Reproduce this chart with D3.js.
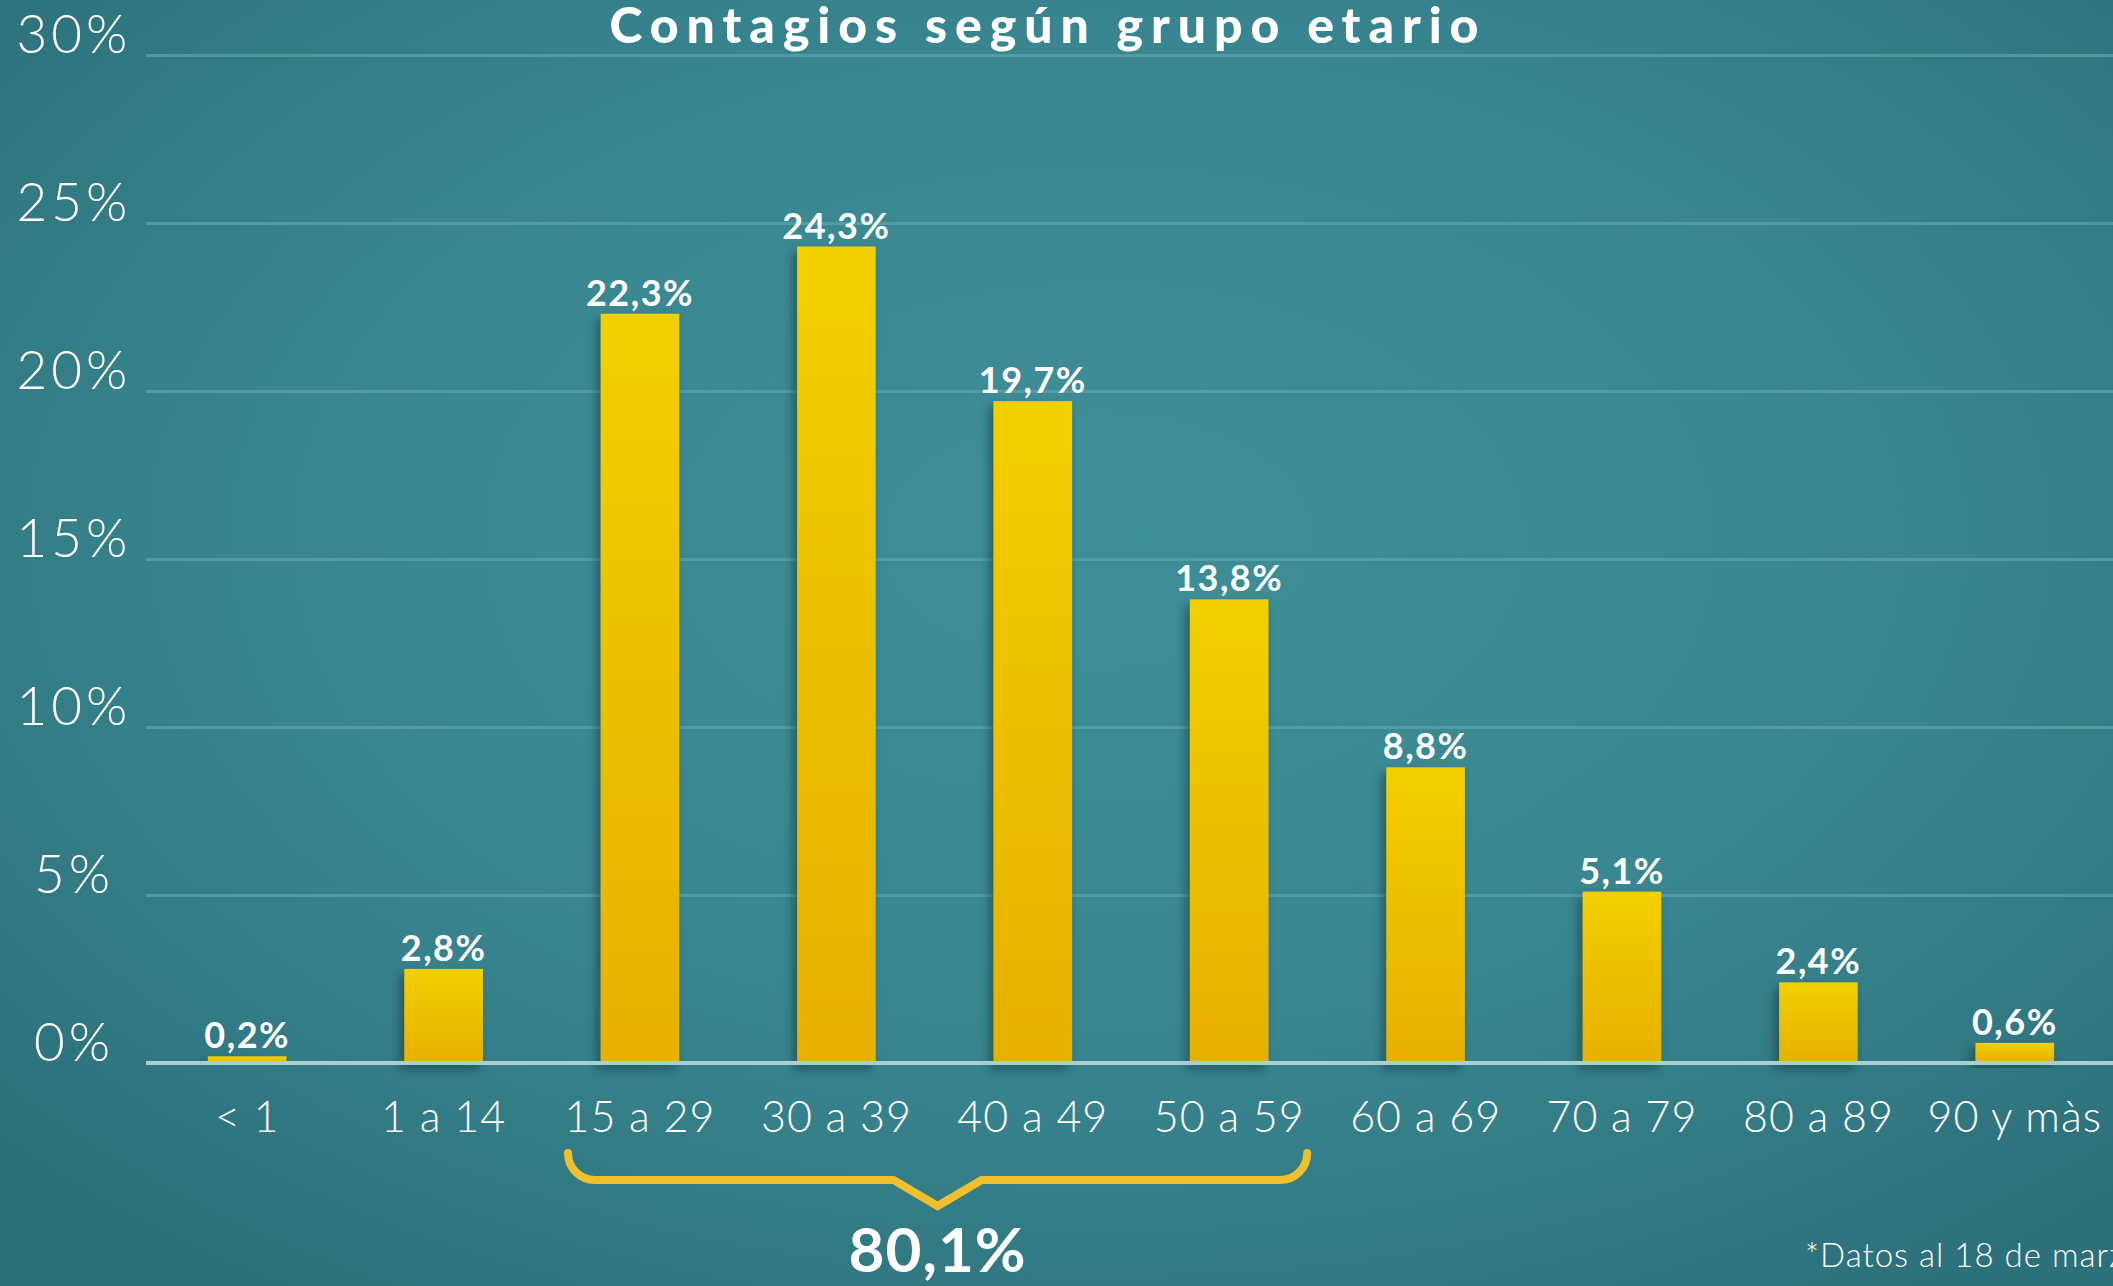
<!DOCTYPE html>
<html>
<head>
<meta charset="utf-8">
<script src="https://cdn.jsdelivr.net/npm/d3@7"></script>
<style>
  html, body { margin: 0; padding: 0; overflow: hidden; background: #33808a; }
  #chart { width: 2113px; height: 1286px; }
  text { font-family: Lato, "Open Sans", sans-serif; fill: #fff; }
</style>
</head>
<body>
<div id="chart"></div>
<script>
/* data */
const groups = ["< 1", "1 a 14", "15 a 29", "30 a 39", "40 a 49", "50 a 59", "60 a 69", "70 a 79", "80 a 89", "90 y màs"];
const shares = [0.2, 2.8, 22.3, 24.3, 19.7, 13.8, 8.8, 5.1, 2.4, 0.6];
const yTicks = [0, 5, 10, 15, 20, 25, 30];
const braceGroups = ["15 a 29", "50 a 59"];
const braceLabel = "80,1%";
const title = "Contagios según grupo etario";
const footnote = "*Datos al 18 de marzo";

const width = 2113;
const height = 1286;
const margin = { top: 55, left: 146, right: 0, bottom: 223 };

const svg = d3.select("#chart")
    .append("svg")
    .attr("width", width)
    .attr("height", height);

const defs = svg.append("defs");

// teal background, lighter in the middle
const bg = defs.append("radialGradient")
    .attr("id", "bg")
    .attr("cx", "52%").attr("cy", "42%").attr("r", "70%");
bg.append("stop").attr("offset", "0%").attr("stop-color", "#3e8e98");
bg.append("stop").attr("offset", "55%").attr("stop-color", "#398690");
bg.append("stop").attr("offset", "100%").attr("stop-color", "#2c707a");

// yellow bars fade a little toward the bottom
const barGrad = defs.append("linearGradient")
    .attr("id", "bar")
    .attr("x1", 0).attr("y1", 0).attr("x2", 0).attr("y2", 1);
barGrad.append("stop").attr("offset", "0%").attr("stop-color", "#f2d000");
barGrad.append("stop").attr("offset", "100%").attr("stop-color", "#e6b000");

const shadow = defs.append("filter")
    .attr("id", "shadow")
    .attr("x", "-50%").attr("y", "-10%").attr("width", "200%").attr("height", "130%");
shadow.append("feDropShadow")
    .attr("dx", -4).attr("dy", 6)
    .attr("stdDeviation", 5)
    .attr("flood-color", "#0b3338")
    .attr("flood-opacity", 0.55);

svg.append("rect")
    .attr("width", width)
    .attr("height", height)
    .attr("fill", "url(#bg)");

//scales
const xScale = d3.scaleBand()
    .domain(groups)
    .range([149, width])
    .paddingInner(0.6)
    .paddingOuter(0.3);

const yScale = d3.scaleLinear()
    .domain([0, 30])
    .range([height - margin.bottom, margin.top]);

const comma = d3.formatLocale({ decimal: ",", thousands: ".", grouping: [3], currency: ["", ""] }).format(".1f");

// gridlines + y labels
const yAxis = svg.append("g")
    .attr("transform", `translate(${margin.left},0)`)
    .call(d3.axisLeft(yScale)
        .tickValues(yTicks)
        .tickSize(-(width - margin.left))
        .tickFormat(d => d + "%"));

yAxis.select(".domain").remove();
yAxis.selectAll(".tick line")
    .attr("stroke", "#5aa3ab")
    .attr("stroke-opacity", 0.75)
    .attr("stroke-width", 3)
    .filter(d => d === 0).remove();
yAxis.selectAll(".tick text")
    .attr("x", 74 - margin.left)
    .attr("dy", -3)
    .attr("text-anchor", "middle")
    .style("font-size", "53px")
    .style("font-weight", 300)
    .style("letter-spacing", "4px")
    .style("fill", "#fff");

// bars
svg.append("g")
    .selectAll("rect")
    .data(shares)
    .join("rect")
    .attr("x", (d, i) => xScale(groups[i]))
    .attr("y", d => yScale(d))
    .attr("width", xScale.bandwidth())
    .attr("height", d => yScale(0) - yScale(d))
    .attr("fill", "url(#bar)")
    .attr("filter", "url(#shadow)");

// baseline
svg.append("line")
    .attr("x1", margin.left)
    .attr("x2", width)
    .attr("y1", yScale(0))
    .attr("y2", yScale(0))
    .attr("stroke", "#a9cfd3")
    .attr("stroke-width", 4);

// value labels
svg.append("g")
    .selectAll("text")
    .data(shares)
    .join("text")
    .attr("x", (d, i) => xScale(groups[i]) + xScale.bandwidth() / 2)
    .attr("y", d => yScale(d) - 8)
    .attr("text-anchor", "middle")
    .style("font-size", "36px")
    .style("font-weight", 700)
    .style("letter-spacing", "1.5px")
    .text(d => comma(d) + "%");

// x labels
const xAxis = svg.append("g")
    .attr("transform", `translate(0,${yScale(0)})`)
    .call(d3.axisBottom(xScale).tickSize(0).tickPadding(0));

xAxis.select(".domain").remove();
xAxis.selectAll(".tick text")
    .attr("dy", 0)
    .attr("y", 69)
    .style("font-size", "43px")
    .style("font-weight", 300)
    .style("letter-spacing", "1px")
    .style("fill", "#fff");

// brace under 15 a 29 .. 50 a 59
const bx0 = xScale(braceGroups[0]) + xScale.bandwidth() / 2 - 72;
const bx1 = xScale(braceGroups[1]) + xScale.bandwidth() / 2 + 78;
const bmid = (bx0 + bx1) / 2;
const yTop = 1153, yLine = 1180, yTip = 1206, r = 27;

const brace = d3.path();
brace.moveTo(bx0, yTop);
brace.arcTo(bx0, yLine, bx0 + r, yLine, r);
brace.lineTo(bmid - 44, yLine);
brace.lineTo(bmid, yTip);
brace.lineTo(bmid + 44, yLine);
brace.lineTo(bx1 - r, yLine);
brace.arcTo(bx1, yLine, bx1, yTop, r);
brace.lineTo(bx1, yTop);

svg.append("path")
    .attr("d", brace.toString())
    .attr("fill", "none")
    .attr("stroke", "#efbf2c")
    .attr("stroke-width", 8)
    .attr("stroke-linecap", "round")
    .attr("stroke-linejoin", "miter");

svg.append("text")
    .attr("x", bmid)
    .attr("y", 1272)
    .attr("text-anchor", "middle")
    .style("font-size", "62px")
    .style("font-weight", 700)
    .style("letter-spacing", "1px")
    .text(braceLabel);

// title
svg.append("text")
    .attr("x", 1044)
    .attr("y", 43)
    .attr("text-anchor", "middle")
    .attr("textLength", 869)
    .attr("lengthAdjust", "spacing")
    .style("font-size", "50px")
    .style("font-weight", 900)
    .text(title);

// footnote
svg.append("text")
    .attr("x", 1805)
    .attr("y", 1267)
    .style("font-size", "33px")
    .style("font-weight", 300)
    .style("letter-spacing", "1px")
    .text(footnote);
</script>
</body>
</html>
